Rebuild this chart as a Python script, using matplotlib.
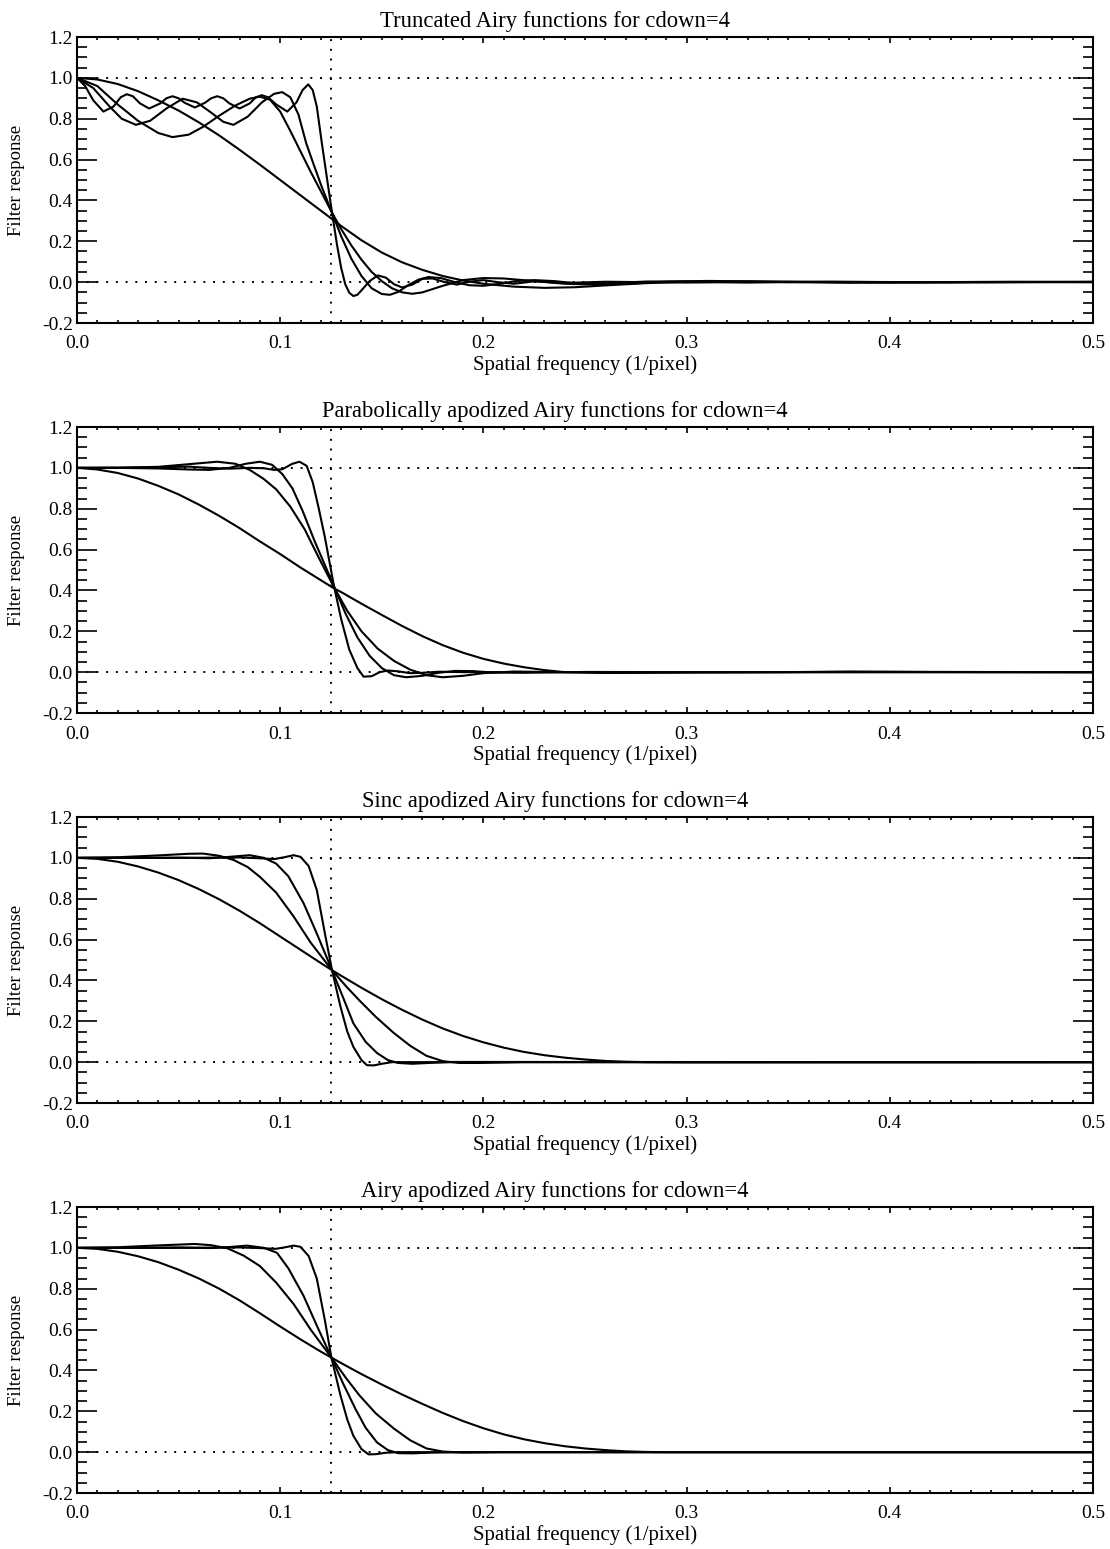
import numpy as np
import matplotlib
matplotlib.use("Agg")
import matplotlib.pyplot as plt
from matplotlib.ticker import MultipleLocator, FormatStrFormatter

plt.rcParams['font.family'] = ['Liberation Serif', 'DejaVu Serif']

# ---- panel 1: truncated ----
trunc_1 = [(0.000, 1.000), (0.010, 0.992), (0.020, 0.970), (0.030, 0.935), (0.040, 0.890),
           (0.050, 0.840), (0.060, 0.782), (0.070, 0.718), (0.080, 0.648), (0.090, 0.575),
           (0.100, 0.500), (0.110, 0.425), (0.120, 0.350), (0.130, 0.275), (0.140, 0.205),
           (0.150, 0.145), (0.160, 0.097), (0.170, 0.060), (0.180, 0.030), (0.190, 0.008),
           (0.200, -0.008), (0.215, -0.022), (0.230, -0.028), (0.245, -0.025), (0.260, -0.016),
           (0.280, -0.005), (0.300, 0.002), (0.330, 0.004), (0.360, 0.001), (0.400, -0.002),
           (0.450, 0.000), (0.500, 0.002)]
trunc_2 = [(0.000, 1.000), (0.010, 0.960), (0.020, 0.870), (0.030, 0.790), (0.040, 0.730),
           (0.047, 0.710), (0.055, 0.722), (0.062, 0.760), (0.070, 0.815), (0.078, 0.865),
           (0.085, 0.898), (0.090, 0.908), (0.095, 0.893), (0.100, 0.835), (0.105, 0.740),
           (0.110, 0.640), (0.115, 0.540), (0.120, 0.445), (0.1255, 0.340), (0.130, 0.260),
           (0.135, 0.180), (0.140, 0.110), (0.145, 0.050), (0.150, 0.005), (0.155, -0.030),
           (0.160, -0.050), (0.165, -0.057), (0.170, -0.050), (0.180, -0.018), (0.190, 0.010),
           (0.200, 0.020), (0.210, 0.018), (0.225, 0.005), (0.240, -0.008), (0.255, -0.012),
           (0.270, -0.008), (0.290, 0.002), (0.310, 0.006), (0.330, 0.004), (0.350, 0.000),
           (0.380, -0.003), (0.420, 0.000), (0.460, 0.002), (0.500, 0.000)]
trunc_3 = [(0.000, 1.000), (0.008, 0.950), (0.016, 0.860), (0.022, 0.800), (0.029, 0.770),
           (0.036, 0.790), (0.044, 0.850), (0.052, 0.898), (0.059, 0.880), (0.066, 0.830),
           (0.072, 0.785), (0.077, 0.770), (0.084, 0.810), (0.091, 0.880), (0.097, 0.922),
           (0.101, 0.930), (0.105, 0.905), (0.109, 0.820), (0.1128, 0.680), (0.1165, 0.575),
           (0.1205, 0.465), (0.1255, 0.340), (0.130, 0.225), (0.135, 0.115), (0.140, 0.030),
           (0.145, -0.030), (0.150, -0.058), (0.154, -0.062), (0.158, -0.048), (0.163, -0.015),
           (0.168, 0.012), (0.173, 0.025), (0.179, 0.020), (0.186, 0.000), (0.193, -0.015),
           (0.200, -0.018), (0.208, -0.008), (0.216, 0.005), (0.225, 0.010), (0.235, 0.005),
           (0.245, -0.005), (0.260, -0.006), (0.280, 0.003), (0.300, 0.004), (0.330, -0.002),
           (0.370, 0.002), (0.420, -0.001), (0.500, 0.000)]
trunc_4 = [(0.000, 1.000), (0.004, 0.960), (0.008, 0.890), (0.013, 0.835), (0.018, 0.860),
           (0.0215, 0.905), (0.0245, 0.920), (0.0275, 0.910), (0.031, 0.875), (0.0355, 0.850),
           (0.041, 0.875), (0.044, 0.900), (0.047, 0.910), (0.050, 0.900), (0.053, 0.878),
           (0.058, 0.855), (0.063, 0.878), (0.066, 0.900), (0.069, 0.910), (0.072, 0.900),
           (0.075, 0.875), (0.080, 0.850), (0.085, 0.875), (0.088, 0.905), (0.091, 0.915),
           (0.094, 0.905), (0.098, 0.870), (0.1035, 0.835), (0.108, 0.880), (0.111, 0.940),
           (0.1138, 0.968), (0.116, 0.940), (0.118, 0.860), (0.1205, 0.680), (0.123, 0.510),
           (0.1255, 0.340), (0.128, 0.180), (0.130, 0.070), (0.132, -0.010), (0.134, -0.052),
           (0.136, -0.068), (0.138, -0.062), (0.140, -0.040), (0.144, 0.005), (0.148, 0.033),
           (0.152, 0.022), (0.156, -0.010), (0.160, -0.026), (0.165, -0.012), (0.170, 0.016),
           (0.175, 0.018), (0.181, 0.000), (0.187, -0.012), (0.193, 0.002), (0.200, 0.010),
           (0.207, 0.000), (0.215, -0.008), (0.225, 0.004), (0.240, -0.004), (0.260, 0.002),
           (0.300, -0.002), (0.350, 0.002), (0.420, 0.000), (0.500, 0.001)]

# ---- panel 2: parabolic apodization ----
para_1 = [(0.000, 1.000), (0.010, 0.992), (0.020, 0.975), (0.030, 0.948), (0.040, 0.912),
          (0.050, 0.870), (0.060, 0.820), (0.070, 0.765), (0.080, 0.705), (0.090, 0.640),
          (0.100, 0.578), (0.110, 0.512), (0.120, 0.450), (0.1265, 0.410), (0.130, 0.392),
          (0.140, 0.335), (0.150, 0.280), (0.160, 0.226), (0.170, 0.176), (0.180, 0.132),
          (0.190, 0.095), (0.200, 0.065), (0.210, 0.042), (0.220, 0.024), (0.230, 0.010),
          (0.240, 0.000), (0.260, -0.004), (0.300, -0.002), (0.350, 0.000), (0.380, 0.003),
          (0.420, 0.001), (0.500, 0.000)]
para_2 = [(0.000, 1.000), (0.020, 1.001), (0.040, 1.005), (0.055, 1.018), (0.069, 1.030),
          (0.078, 1.020), (0.085, 0.990), (0.092, 0.945), (0.098, 0.895), (0.105, 0.810),
          (0.112, 0.700), (0.119, 0.560), (0.1265, 0.415), (0.133, 0.300), (0.140, 0.200),
          (0.148, 0.115), (0.156, 0.055), (0.164, 0.012), (0.172, -0.015), (0.180, -0.025),
          (0.190, -0.018), (0.200, -0.005), (0.215, 0.003), (0.230, 0.001), (0.260, -0.002),
          (0.300, 0.000), (0.400, 0.001), (0.500, 0.000)]
para_3 = [(0.000, 1.000), (0.020, 1.000), (0.040, 0.997), (0.055, 0.992), (0.065, 0.990),
          (0.075, 1.000), (0.083, 1.020), (0.090, 1.030), (0.096, 1.015), (0.101, 0.970),
          (0.106, 0.900), (0.111, 0.790), (0.117, 0.640), (0.1265, 0.420), (0.132, 0.290),
          (0.138, 0.170), (0.144, 0.080), (0.150, 0.020), (0.156, -0.015), (0.162, -0.025),
          (0.170, -0.018), (0.178, -0.003), (0.186, 0.006), (0.195, 0.005), (0.205, -0.002),
          (0.220, -0.003), (0.250, 0.001), (0.300, 0.000), (0.500, 0.000)]
para_4 = [(0.000, 1.000), (0.020, 1.000), (0.040, 1.003), (0.055, 1.006), (0.065, 1.000),
          (0.075, 0.996), (0.085, 1.000), (0.092, 0.998), (0.097, 0.990), (0.101, 0.993),
          (0.106, 1.020), (0.1095, 1.030), (0.113, 1.010), (0.116, 0.930), (0.119, 0.800),
          (0.122, 0.660), (0.1265, 0.420), (0.130, 0.260), (0.134, 0.110), (0.138, 0.020),
          (0.141, -0.022), (0.145, -0.020), (0.149, 0.000), (0.153, 0.008), (0.158, 0.004),
          (0.164, -0.005), (0.170, -0.003), (0.178, 0.002), (0.190, 0.000), (0.500, 0.000)]

# ---- panel 3: sinc apodization ----
sinc_1 = [(0.000, 1.000), (0.010, 0.995), (0.020, 0.981), (0.030, 0.958), (0.040, 0.928),
          (0.050, 0.891), (0.060, 0.847), (0.070, 0.797), (0.080, 0.741), (0.090, 0.680),
          (0.100, 0.615), (0.110, 0.550), (0.120, 0.485), (0.1255, 0.450), (0.130, 0.423),
          (0.140, 0.364), (0.150, 0.308), (0.160, 0.256), (0.170, 0.208), (0.180, 0.165),
          (0.190, 0.128), (0.200, 0.097), (0.210, 0.071), (0.220, 0.050), (0.230, 0.034),
          (0.240, 0.022), (0.250, 0.013), (0.260, 0.006), (0.270, 0.002), (0.280, 0.000),
          (0.300, -0.001), (0.500, 0.000)]
sinc_2 = [(0.000, 1.000), (0.020, 1.003), (0.040, 1.012), (0.055, 1.020), (0.062, 1.021),
          (0.070, 1.010), (0.077, 0.990), (0.084, 0.955), (0.090, 0.907), (0.098, 0.830),
          (0.1066, 0.713), (0.115, 0.585), (0.1255, 0.450), (0.133, 0.365), (0.139, 0.302),
          (0.147, 0.222), (0.156, 0.142), (0.164, 0.080), (0.172, 0.031), (0.180, 0.005),
          (0.188, -0.004), (0.198, -0.004), (0.220, 0.000), (0.500, 0.000)]
sinc_3 = [(0.000, 1.000), (0.030, 1.000), (0.050, 1.001), (0.065, 0.998), (0.075, 1.005),
          (0.085, 1.013), (0.092, 1.000), (0.098, 0.972), (0.104, 0.910), (0.1115, 0.778),
          (0.118, 0.630), (0.1255, 0.450), (0.131, 0.315), (0.136, 0.190), (0.142, 0.100),
          (0.1476, 0.045), (0.153, 0.010), (0.158, -0.004), (0.165, -0.008), (0.173, -0.004),
          (0.185, 0.001), (0.500, 0.000)]
sinc_4 = [(0.000, 1.000), (0.050, 1.000), (0.080, 1.002), (0.090, 0.998), (0.097, 0.994),
          (0.102, 1.003), (0.1066, 1.013), (0.110, 1.005), (0.114, 0.960), (0.118, 0.843),
          (0.122, 0.630), (0.1255, 0.450), (0.1296, 0.274), (0.133, 0.150), (0.136, 0.075),
          (0.140, 0.010), (0.1427, -0.015), (0.146, -0.016), (0.150, -0.008), (0.155, 0.000),
          (0.500, 0.000)]

# ---- panel 4: airy apodization ----
airy_1 = [(0.000, 1.000), (0.010, 0.995), (0.020, 0.981), (0.030, 0.959), (0.040, 0.930),
          (0.050, 0.893), (0.060, 0.850), (0.070, 0.800), (0.080, 0.743), (0.090, 0.680),
          (0.100, 0.615), (0.110, 0.552), (0.120, 0.492), (0.1252, 0.463), (0.130, 0.436),
          (0.140, 0.382), (0.150, 0.331), (0.160, 0.282), (0.170, 0.236), (0.180, 0.192),
          (0.190, 0.152), (0.200, 0.117), (0.210, 0.087), (0.220, 0.063), (0.230, 0.044),
          (0.240, 0.029), (0.250, 0.018), (0.260, 0.010), (0.270, 0.004), (0.280, 0.001),
          (0.290, 0.000), (0.500, 0.000)]
airy_2 = [(0.000, 1.000), (0.020, 1.003), (0.040, 1.012), (0.058, 1.019), (0.066, 1.013),
          (0.074, 0.998), (0.082, 0.962), (0.090, 0.911), (0.098, 0.830), (0.1066, 0.725),
          (0.115, 0.600), (0.1252, 0.463), (0.132, 0.368), (0.139, 0.278), (0.147, 0.190),
          (0.156, 0.115), (0.164, 0.058), (0.172, 0.018), (0.180, 0.003), (0.190, -0.002),
          (0.210, 0.000), (0.500, 0.000)]
airy_3 = [(0.000, 1.000), (0.030, 1.000), (0.050, 1.002), (0.065, 0.999), (0.075, 1.004),
          (0.0837, 1.011), (0.092, 1.000), (0.0984, 0.976), (0.104, 0.900), (0.1115, 0.765),
          (0.118, 0.620), (0.1252, 0.463), (0.131, 0.335), (0.137, 0.212), (0.142, 0.120),
          (0.1476, 0.048), (0.153, 0.010), (0.158, -0.005), (0.165, -0.006), (0.175, -0.002),
          (0.190, 0.000), (0.500, 0.000)]
airy_4 = [(0.000, 1.000), (0.050, 1.000), (0.080, 1.002), (0.090, 0.999), (0.0976, 0.995),
          (0.102, 1.002), (0.1066, 1.011), (0.110, 1.005), (0.114, 0.960), (0.118, 0.850),
          (0.122, 0.645), (0.1252, 0.463), (0.1296, 0.280), (0.133, 0.160), (0.136, 0.080),
          (0.140, 0.015), (0.1435, -0.011), (0.147, -0.010), (0.152, -0.003), (0.158, 0.000),
          (0.500, 0.000)]

titles = ["Truncated Airy functions for cdown=4",
          "Parabolically apodized Airy functions for cdown=4",
          "Sinc apodized Airy functions for cdown=4",
          "Airy apodized Airy functions for cdown=4"]
panels = [[trunc_1, trunc_2, trunc_3, trunc_4],
          [para_1, para_2, para_3, para_4],
          [sinc_1, sinc_2, sinc_3, sinc_4],
          [airy_1, airy_2, airy_3, airy_4]]
cutoff = 0.125

W, H = 1110, 1549
fig = plt.figure(figsize=(W / 100, H / 100), dpi=100)

for k in range(4):
    top = 37 + 390 * k
    ax = fig.add_axes([77 / W, (H - top - 286) / H, 1016 / W, 286 / H])
    for curve in panels[k]:
        xs = [p[0] for p in curve]
        ys = [p[1] for p in curve]
        ax.plot(xs, ys, color='black', lw=1.5, solid_joinstyle='round')
    dot = (0, (1, 4))
    ax.axhline(0.0, color='black', lw=1.4, ls=dot)
    ax.axhline(1.0, color='black', lw=1.4, ls=dot)
    ax.axvline(cutoff, color='black', lw=1.4, ls=dot)

    ax.set_xlim(0, 0.5)
    ax.set_ylim(-0.2, 1.2)
    ax.xaxis.set_major_locator(MultipleLocator(0.1))
    ax.xaxis.set_minor_locator(MultipleLocator(0.01))
    ax.yaxis.set_major_locator(MultipleLocator(0.2))
    ax.yaxis.set_minor_locator(MultipleLocator(0.05))
    ax.xaxis.set_major_formatter(FormatStrFormatter('%.1f'))
    ax.yaxis.set_major_formatter(FormatStrFormatter('%.1f'))
    ax.tick_params(axis='x', which='major', direction='in', length=4.2, width=1.2,
                   top=True, bottom=True, labelsize=14, pad=9)
    ax.tick_params(axis='x', which='minor', direction='in', length=2.2, width=1.2,
                   top=True, bottom=True)
    ax.tick_params(axis='y', which='major', direction='in', length=14.4, width=1.2,
                   left=True, right=True, labelsize=14, pad=3)
    ax.tick_params(axis='y', which='minor', direction='in', length=7.2, width=1.2,
                   left=True, right=True)
    for s in ax.spines.values():
        s.set_linewidth(1.5)

    # IDL-style text placement (pixel positions)
    fig.text(0.5, 1 - (27 + 390 * k) / H, titles[k], fontsize=16.3,
             ha='center', va='baseline')
    fig.text(585 / W, 1 - (365 + 390 * k) / H, "Spatial frequency (1/pixel)",
             fontsize=15, ha='center', va='center')
    fig.text(17 / W, 1 - (180 + 390 * k) / H, "Filter response", fontsize=13.5,
             ha='center', va='center', rotation=90)

fig.savefig("out.png", dpi=100)
